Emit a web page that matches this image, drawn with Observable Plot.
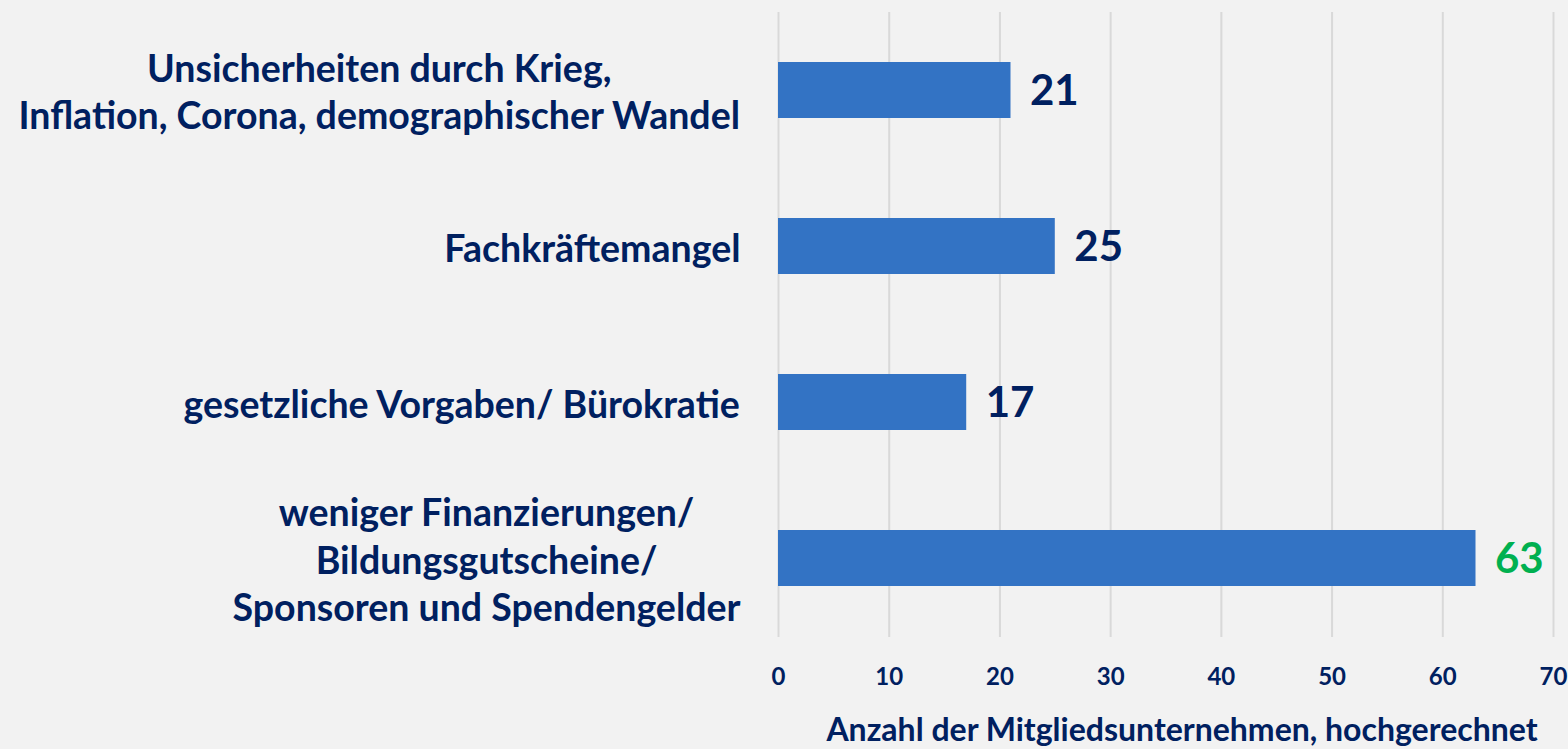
<!DOCTYPE html>
<html>
<head>
<meta charset="utf-8">
<script src="https://cdn.jsdelivr.net/npm/d3@7"></script>
<script src="https://cdn.jsdelivr.net/npm/@observablehq/plot@0.6"></script>
<style>
  html, body { margin: 0; padding: 0; background: #f2f2f2; }
  #chart svg { display: block; }
</style>
</head>
<body>
<div id="chart"></div>
<script>
const categories = [
  "Unsicherheiten durch Krieg,\nInflation, Corona, demographischer Wandel",
  "Fachkräftemangel",
  "gesetzliche Vorgaben/ Bürokratie",
  "weniger Finanzierungen/\nBildungsgutscheine/\nSponsoren und Spendengelder"
];
const values = [21, 25, 17, 63];
const valueColors = ["#002060", "#002060", "#002060", "#00b050"];
const xTicks = [0, 10, 20, 30, 40, 50, 60, 70];
const xTitle = "Anzahl der Mitgliedsunternehmen, hochgerechnet";

const FONT = "Lato, 'Open Sans', sans-serif";
const NAVY = "#002060";
const catSize = 37.5;

const data = categories.map((c, i) => ({cat: c, value: values[i], color: valueColors[i]}));

// measure label block widths: lines are centred within a block whose right edge sits left of the plot
const ctx = document.createElement("canvas").getContext("2d");
ctx.font = `bold ${catSize}px Lato`;
const blockW = c => Math.max(...c.split("\n").map(l => ctx.measureText(l).width));

const catMarks = data.map(d => Plot.text([d], {
  y: "cat", text: "cat", frameAnchor: "left",
  dx: -38 - blockW(d.cat) / 2, textAnchor: "middle", lineAnchor: "middle", lineHeight: 1.26,
  fill: NAVY, fontSize: catSize, fontWeight: "bold"
}));

const chart = Plot.plot({
  width: 1568,
  height: 749,
  marginLeft: 778,
  marginRight: 15,
  marginTop: 12,
  marginBottom: 112,
  style: {background: "#f2f2f2", fontFamily: FONT},
  x: {domain: [0, 70], ticks: xTicks},
  y: {domain: categories, paddingInner: 0.64, paddingOuter: 0.32, axis: null},
  marks: [
    Plot.gridX(xTicks, {stroke: "#d9d9d9", strokeOpacity: 1, strokeWidth: 2}),
    Plot.barX(data, {y: "cat", x: "value", fill: "#3373c4"}),
    Plot.text(data, {
      y: "cat", x: "value", text: d => String(d.value), fill: "color",
      textAnchor: "start", dx: 19, dy: 1, fontSize: 42, fontWeight: "bold"
    }),
    ...catMarks,
    Plot.axisX(xTicks, {tickSize: 0, tickPadding: 30, fontSize: 24, fontWeight: "bold", fill: NAVY, label: null}),
    Plot.text([xTitle], {frameAnchor: "bottom", dx: 16, dy: 93, lineAnchor: "middle", fill: NAVY, fontSize: 32, fontWeight: "bold"})
  ]
});

document.getElementById("chart").append(chart);
</script>
</body>
</html>
